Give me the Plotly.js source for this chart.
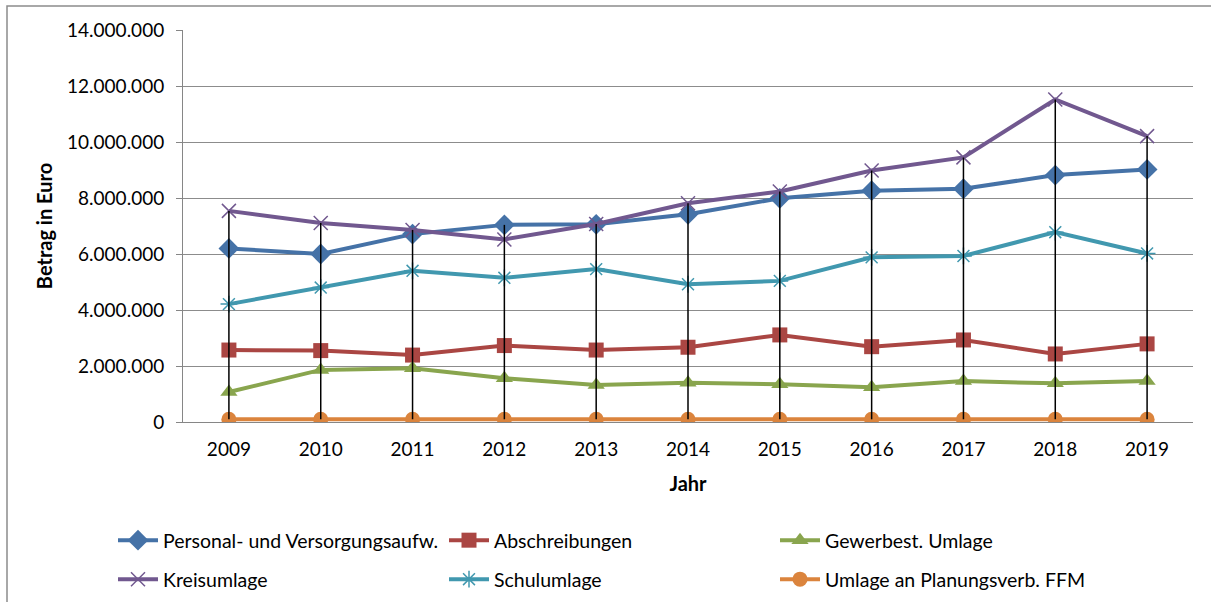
<!DOCTYPE html>
<html>
<head>
<meta charset="utf-8">
<script src="https://cdn.plot.ly/plotly-3.0.1.min.js"></script>
<style>
html,body{margin:0;padding:0;background:#fff;}
#chart{width:1211px;height:602px;}
</style>
</head>
<body>
<div id="chart"></div>
<script>
const years = ['2009','2010','2011','2012','2013','2014','2015','2016','2017','2018','2019'];
const personal = [6200000, 6000000, 6710000, 7040000, 7060000, 7420000, 7990000, 8260000, 8330000, 8820000, 9020000];
const abschreibungen = [2570000, 2550000, 2390000, 2730000, 2570000, 2670000, 3110000, 2690000, 2930000, 2430000, 2790000];
const gewerbest = [1070000, 1860000, 1920000, 1560000, 1320000, 1400000, 1350000, 1240000, 1460000, 1380000, 1460000];
const kreisumlage = [7540000, 7110000, 6860000, 6520000, 7070000, 7810000, 8230000, 8980000, 9450000, 11520000, 10210000];
const schulumlage = [4210000, 4800000, 5400000, 5150000, 5460000, 4920000, 5040000, 5880000, 5930000, 6780000, 6020000];
const planungsverb = [95000, 98000, 98000, 97000, 97000, 96000, 95000, 96000, 96000, 95000, 95000];
const seriesNames = ['Personal- und Versorgungsaufw.', 'Abschreibungen', 'Gewerbest. Umlage', 'Kreisumlage', 'Schulumlage', 'Umlage an Planungsverb. FFM'];
const yTickVals = [0, 2000000, 4000000, 6000000, 8000000, 10000000, 12000000, 14000000];

const allSeries = [personal, abschreibungen, gewerbest, kreisumlage, schulumlage, planungsverb];
const colors = ['#4572A7', '#AA4643', '#89A54E', '#71588F', '#4198AF', '#DB843D'];
const symbols = ['diamond', 'square', 'triangle-up', 'x-thin-open', 'asterisk-open', 'circle'];
const sizes = [16, 15, 15, 14, 14, 15];

const traces = allSeries.map((vals, i) => ({
  type: 'scatter', mode: 'lines+markers',
  x: years, y: vals, name: seriesNames[i],
  legend: i < 3 ? 'legend' : 'legend2',
  line: {color: colors[i], width: 4},
  marker: {symbol: symbols[i], size: sizes[i], color: colors[i],
           line: {color: colors[i], width: (i === 3 || i === 4) ? 1.5 : 0}},
  hoverinfo: 'x+y+name'
}));

// high-low lines from min to max of all series per year
const hlX = [], hlY = [];
years.forEach((yr, k) => {
  const vals = allSeries.map(s => s[k]);
  hlX.push(yr, yr, null);
  hlY.push(Math.min(...vals), Math.max(...vals), null);
});
traces.push({type: 'scatter', mode: 'lines', x: hlX, y: hlY, showlegend: false,
  line: {color: '#000000', width: 1.5}, hoverinfo: 'skip'});

const fontFam = 'Lato, Carlito, "Liberation Sans", sans-serif';
const W = 1211, H = 602;
const plotW = 1010, plotH = 392, plotL = 183, plotT = 30;
const legendCommon = {
  orientation: 'h', xref: 'container', yref: 'container',
  x: 113 / W, xanchor: 'left', yanchor: 'top',
  entrywidth: 276, entrywidthmode: 'pixels',
  font: {family: fontFam, size: 19.5, color: '#000'},
  bgcolor: 'rgba(0,0,0,0)', itemwidth: 40, tracegroupgap: 0
};
const layout = {
  width: W, height: H,
  paper_bgcolor: '#ffffff', plot_bgcolor: '#ffffff',
  separators: ',.',
  margin: {l: 183, r: 18, t: 30, b: 180},
  font: {family: fontFam, size: 18, color: '#000'},
  xaxis: {
    type: 'category', range: [-0.5, 10.5],
    showgrid: false, zeroline: false,
    showline: true, linecolor: '#868686', linewidth: 1,
    ticks: '', ticklen: 0, ticklabelstandoff: 10,
    tickfont: {family: fontFam, size: 19, color: '#000'},
    title: {text: '<b>Jahr</b>', font: {family: fontFam, size: 20, color: '#000'}, standoff: 18},
    automargin: false
  },
  yaxis: {
    range: [0, 14000000], tickvals: yTickVals, tickformat: ',d',
    showgrid: true, gridcolor: '#8c8c8c', gridwidth: 1,
    zeroline: false,
    showline: true, linecolor: '#868686', linewidth: 1,
    ticks: 'outside', ticklen: 6, tickcolor: '#868686', ticklabelstandoff: 8,
    tickfont: {family: fontFam, size: 19, color: '#000'},
    title: {text: '<b>Betrag in Euro</b>', font: {family: fontFam, size: 20, color: '#000'}, standoff: 9},
    automargin: false
  },
  legend: Object.assign({}, legendCommon, {y: 1 - 521 / H}),
  legend2: Object.assign({}, legendCommon, {y: 1 - 560 / H}),
  shapes: [{
    type: 'rect', xref: 'paper', yref: 'paper',
    x0: -176 / plotW, x1: 1.2, y0: -0.5, y1: 1 + 24 / plotH,
    line: {color: '#8c8c8c', width: 1.5}, fillcolor: 'rgba(0,0,0,0)', layer: 'below'
  }],
  showlegend: true
};

Plotly.newPlot('chart', traces, layout, {displayModeBar: false, staticPlot: true});
</script>
</body>
</html>
